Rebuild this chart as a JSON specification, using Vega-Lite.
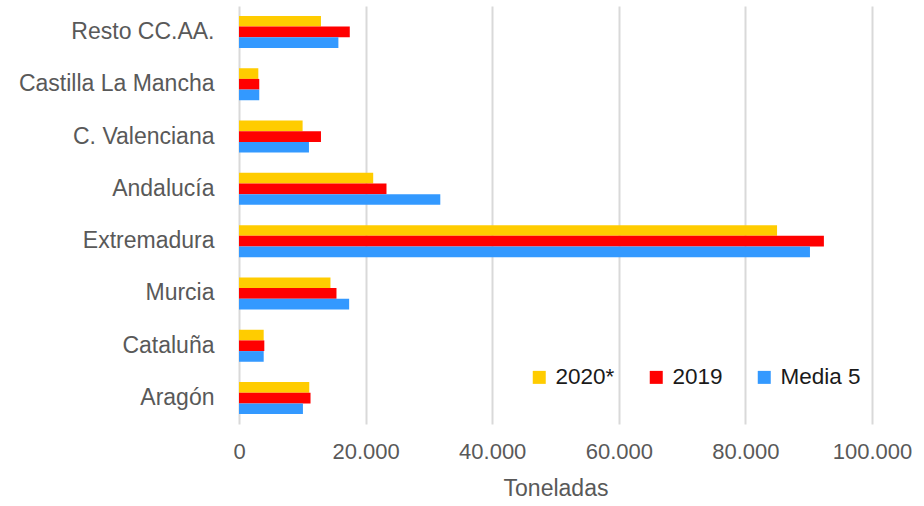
{
  "$schema": "https://vega.github.io/schema/vega-lite/v6.json",
  "autosize": "none",
  "width": 633,
  "height": 418,
  "padding": {"left": 239, "top": 6, "right": 52, "bottom": 82},
  "background": "white",
  "data": {
    "values": [
      {"region": "Resto CC.AA.", "serie": "2020*", "toneladas": 12950},
      {"region": "Resto CC.AA.", "serie": "2019", "toneladas": 17500},
      {"region": "Resto CC.AA.", "serie": "Media 5", "toneladas": 15700},
      {"region": "Castilla La Mancha", "serie": "2020*", "toneladas": 3050},
      {"region": "Castilla La Mancha", "serie": "2019", "toneladas": 3200},
      {"region": "Castilla La Mancha", "serie": "Media 5", "toneladas": 3200},
      {"region": "C. Valenciana", "serie": "2020*", "toneladas": 10050},
      {"region": "C. Valenciana", "serie": "2019", "toneladas": 12950},
      {"region": "C. Valenciana", "serie": "Media 5", "toneladas": 11050},
      {"region": "Andalucía", "serie": "2020*", "toneladas": 21200},
      {"region": "Andalucía", "serie": "2019", "toneladas": 23300},
      {"region": "Andalucía", "serie": "Media 5", "toneladas": 31800},
      {"region": "Extremadura", "serie": "2020*", "toneladas": 85000},
      {"region": "Extremadura", "serie": "2019", "toneladas": 92400},
      {"region": "Extremadura", "serie": "Media 5", "toneladas": 90200},
      {"region": "Murcia", "serie": "2020*", "toneladas": 14450},
      {"region": "Murcia", "serie": "2019", "toneladas": 15400},
      {"region": "Murcia", "serie": "Media 5", "toneladas": 17400},
      {"region": "Cataluña", "serie": "2020*", "toneladas": 3900},
      {"region": "Cataluña", "serie": "2019", "toneladas": 4000},
      {"region": "Cataluña", "serie": "Media 5", "toneladas": 3900},
      {"region": "Aragón", "serie": "2020*", "toneladas": 11100},
      {"region": "Aragón", "serie": "2019", "toneladas": 11300},
      {"region": "Aragón", "serie": "Media 5", "toneladas": 10100}
    ]
  },
  "mark": {"type": "bar"},
  "encoding": {
    "y": {
      "field": "region",
      "type": "nominal",
      "sort": ["Resto CC.AA.", "Castilla La Mancha", "C. Valenciana", "Andalucía", "Extremadura", "Murcia", "Cataluña", "Aragón"],
      "scale": {"paddingInner": 0.388, "paddingOuter": 0.19},
      "axis": {
        "title": null,
        "ticks": false,
        "domain": false,
        "labelPadding": 25,
        "labelLimit": 400,
        "labelFont": "Liberation Sans",
        "labelFontSize": 23,
        "labelColor": "#595959"
      }
    },
    "yOffset": {
      "field": "serie",
      "type": "nominal",
      "sort": ["2020*", "2019", "Media 5"]
    },
    "x": {
      "field": "toneladas",
      "type": "quantitative",
      "scale": {"domain": [0, 100000], "nice": false},
      "axis": {
        "title": "Toneladas",
        "values": [0, 20000, 40000, 60000, 80000, 100000],
        "format": ",.0f",
        "labelExpr": "replace(datum.label, ',', '.')",
        "labelFlush": false,
        "labelOverlap": false,
        "ticks": false,
        "domain": false,
        "grid": true,
        "gridColor": "#d9d9d9",
        "gridWidth": 2,
        "labelPadding": 17,
        "labelFont": "Liberation Sans",
        "labelFontSize": 22,
        "labelColor": "#595959",
        "titleFont": "Liberation Sans",
        "titleFontSize": 23,
        "titleFontWeight": "normal",
        "titleColor": "#595959",
        "titlePadding": 15
      }
    },
    "color": {
      "field": "serie",
      "type": "nominal",
      "scale": {"domain": ["2020*", "2019", "Media 5"], "range": ["#FFCC00", "#FF0000", "#3399FF"]},
      "legend": {
        "title": null,
        "orient": "none",
        "legendX": 289,
        "legendY": 360,
        "direction": "horizontal",
        "symbolType": "square",
        "symbolSize": 169,
        "symbolStrokeWidth": 0,
        "labelFont": "Liberation Sans",
        "labelFontSize": 22.5,
        "labelColor": "#1a1a1a",
        "labelOffset": 5,
        "columnPadding": 30,
        "padding": 0
      }
    }
  },
  "config": {"view": {"stroke": null}}
}
